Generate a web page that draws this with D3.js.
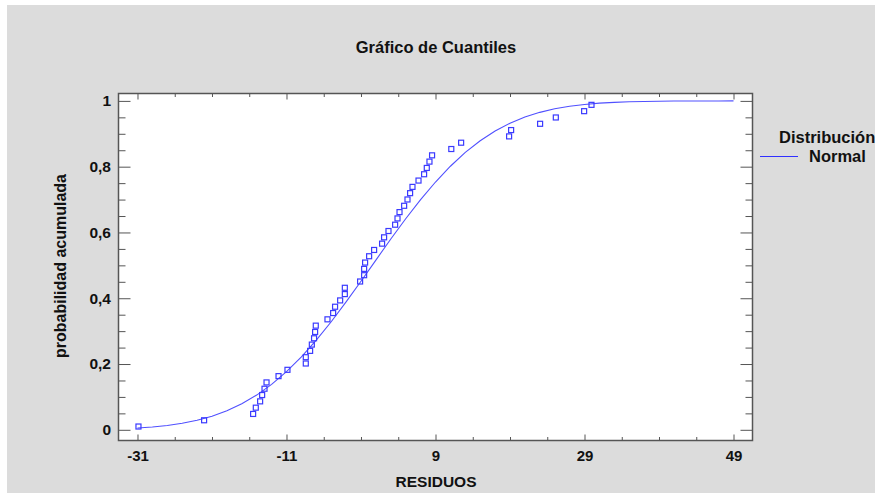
<!DOCTYPE html>
<html>
<head>
<meta charset="utf-8">
<script src="https://cdn.jsdelivr.net/npm/d3@7"></script>
<style>
  html, body { margin: 0; padding: 0; background: #ffffff; }
  svg { display: block; font-family: "Liberation Sans", Arial, sans-serif; }
</style>
</head>
<body>
<svg id="chart" width="875" height="493"></svg>
<script>
// ---- data ----
const titleText = "Gráfico de Cuantiles";
const xTitle = "RESIDUOS";
const yTitle = "probabilidad acumulada";
const legendTitle = "Distribución";
const legendItem = "Normal";

// sorted residuals (x) ; y is cumulative probability
const residuals = [
  -30.87, -22.06, -15.48, -15.12, -14.54, -14.27, -13.95, -13.68, -12.07, -10.87,
  -8.41, -8.41, -7.83, -7.60, -7.30, -7.16, -7.07, -5.50, -4.74, -4.48,
  -3.80, -3.17, -3.17, -1.12, -0.58, -0.58, -0.45, 0.09, 0.76, 1.83,
  2.10, 2.69, 3.58, 3.90, 4.17, 4.79, 5.24, 5.59, 5.91, 6.72,
  7.47, 7.83, 8.19, 8.54, 11.12, 12.44, 18.88, 19.15, 23.04, 25.15,
  28.95, 29.94
];
const cumProb = [
  0.0100, 0.0290, 0.0482, 0.0673, 0.0865, 0.1057, 0.1249, 0.1441, 0.1632, 0.1824,
  0.2016, 0.2208, 0.2400, 0.2591, 0.2783, 0.2975, 0.3167, 0.3359, 0.3550, 0.3742,
  0.3934, 0.4126, 0.4318, 0.4509, 0.4701, 0.4893, 0.5085, 0.5277, 0.5468, 0.5660,
  0.5852, 0.6044, 0.6236, 0.6427, 0.6619, 0.6811, 0.7003, 0.7195, 0.7386, 0.7578,
  0.7770, 0.7962, 0.8154, 0.8345, 0.8537, 0.8729, 0.8921, 0.9113, 0.9304, 0.9496,
  0.9688, 0.9880
];

// fitted normal curve
const curveX = [-31,-29,-27,-25,-23,-21,-19,-17,-15,-13,-11,-9,-7,-5,-3,-1,1,3,5,7,9,11,13,15,17,19,21,23,25,27,29,31,33,35,37,39,41,43,45,47,49];
const curveY = [0.0055,0.0087,0.0133,0.0199,0.0290,0.0415,0.0579,0.0791,0.1056,0.1381,0.1769,0.2218,0.2726,0.3286,0.3889,0.4518,0.5161,0.5800,0.6417,0.6999,0.7534,0.8014,0.8433,0.8788,0.9084,0.9321,0.9508,0.9652,0.9759,0.9837,0.9892,0.9931,0.9956,0.9973,0.9984,0.9990,0.9995,0.9997,0.9998,0.9999,1.0000];

const xTickValues = [-31, -11, 9, 29, 49];
const xTickLabels = ["-31", "-11", "9", "29", "49"];
const yTickValues = [0, 0.2, 0.4, 0.6, 0.8, 1];
const yTickLabels = ["0", "0,2", "0,4", "0,6", "0,8", "1"];

// ---- layout ----
const svg = d3.select("#chart");
const W = 875, H = 493;
const plot = { left: 118.5, right: 752.5, top: 93.5, bottom: 440.5 };
const blue = "#3a3aff";
const axisColor = "#555555";
const textColor = "#111111";

svg.append("rect").attr("x", 7).attr("y", 5).attr("width", W - 7).attr("height", H - 5).attr("fill", "#dcdcdc");

const x = d3.scaleLinear().domain([-33.55, 51.55]).range([plot.left, plot.right]);
const y = d3.scaleLinear().domain([-0.0325, 1.0225]).range([plot.bottom, plot.top]);

svg.append("rect")
  .attr("x", plot.left).attr("y", plot.top)
  .attr("width", plot.right - plot.left).attr("height", plot.bottom - plot.top)
  .attr("fill", "#ffffff");

const xMinor = d3.range(-31, 50, 5).filter(v => !xTickValues.includes(v));
const yMinor = d3.range(0, 1.0001, 0.05).map(v => +v.toFixed(2)).filter(v => !yTickValues.some(t => Math.abs(t - v) < 1e-6));

function styleAxis(g) {
  g.select(".domain").remove();
  g.selectAll("line").attr("stroke", axisColor).attr("stroke-width", 1);
}

// bottom axis
const gxB = svg.append("g").attr("transform", `translate(0,${plot.bottom})`)
  .call(d3.axisBottom(x).tickValues(xTickValues).tickSize(-6).tickPadding(10)
    .tickFormat((d, i) => xTickLabels[i]));
styleAxis(gxB);
gxB.selectAll("text").attr("font-size", 15).attr("font-weight", "bold").attr("fill", textColor);
svg.append("g").attr("transform", `translate(0,${plot.bottom})`)
  .call(d3.axisBottom(x).tickValues(xMinor).tickSize(-3.5).tickFormat(""))
  .call(styleAxis);

// top axis ticks
svg.append("g").attr("transform", `translate(0,${plot.top})`)
  .call(d3.axisTop(x).tickValues(xTickValues).tickSize(-6).tickFormat(""))
  .call(styleAxis);
svg.append("g").attr("transform", `translate(0,${plot.top})`)
  .call(d3.axisTop(x).tickValues(xMinor).tickSize(-3.5).tickFormat(""))
  .call(styleAxis);

// left axis
const gyL = svg.append("g").attr("transform", `translate(${plot.left},0)`)
  .call(d3.axisLeft(y).tickValues(yTickValues).tickSize(-12).tickPadding(7.5)
    .tickFormat((d, i) => yTickLabels[i]));
styleAxis(gyL);
gyL.selectAll("text").attr("font-size", 15.5).attr("font-weight", "bold").attr("fill", textColor);
svg.append("g").attr("transform", `translate(${plot.left},0)`)
  .call(d3.axisLeft(y).tickValues(yMinor).tickSize(-7).tickFormat(""))
  .call(styleAxis);

// right axis ticks
svg.append("g").attr("transform", `translate(${plot.right},0)`)
  .call(d3.axisRight(y).tickValues(yTickValues).tickSize(-12).tickFormat(""))
  .call(styleAxis);
svg.append("g").attr("transform", `translate(${plot.right},0)`)
  .call(d3.axisRight(y).tickValues(yMinor).tickSize(-7).tickFormat(""))
  .call(styleAxis);

// frame
svg.append("rect")
  .attr("x", plot.left).attr("y", plot.top)
  .attr("width", plot.right - plot.left).attr("height", plot.bottom - plot.top)
  .attr("fill", "none").attr("stroke", axisColor).attr("stroke-width", 1.5);

// normal curve
const curveData = curveX.map((v, i) => [v, curveY[i]]);
svg.append("path")
  .datum(curveData)
  .attr("d", d3.line().x(d => x(d[0])).y(d => y(d[1])))
  .attr("fill", "none").attr("stroke", "#5050ff").attr("stroke-width", 1.1);

// points
const pts = residuals.map((v, i) => [v, cumProb[i]]);
const s = 5;
svg.append("g").selectAll("rect").data(pts).join("rect")
  .attr("x", d => x(d[0]) - s / 2)
  .attr("y", d => y(d[1]) - s / 2)
  .attr("width", s).attr("height", s)
  .attr("fill", "none").attr("stroke", blue).attr("stroke-width", 1.2);

// titles
svg.append("text").attr("x", 436).attr("y", 53).attr("text-anchor", "middle")
  .attr("font-size", 16.5).attr("font-weight", "bold").attr("fill", textColor).text(titleText);
svg.append("text").attr("x", 436).attr("y", 487).attr("text-anchor", "middle")
  .attr("font-size", 15.5).attr("font-weight", "bold").attr("fill", textColor).text(xTitle);
svg.append("text").attr("transform", "translate(66,266) rotate(-90)").attr("text-anchor", "middle")
  .attr("font-size", 16).attr("font-weight", "bold").attr("fill", textColor).text(yTitle);

// legend
svg.append("text").attr("x", 779).attr("y", 143)
  .attr("font-size", 16.5).attr("font-weight", "bold").attr("fill", textColor).text(legendTitle);
svg.append("line").attr("x1", 760).attr("x2", 798).attr("y1", 156.5).attr("y2", 156.5)
  .attr("stroke", "#3030ff").attr("stroke-width", 1.2);
svg.append("text").attr("x", 809).attr("y", 162)
  .attr("font-size", 16.5).attr("font-weight", "bold").attr("fill", textColor).text(legendItem);
</script>
</body>
</html>
